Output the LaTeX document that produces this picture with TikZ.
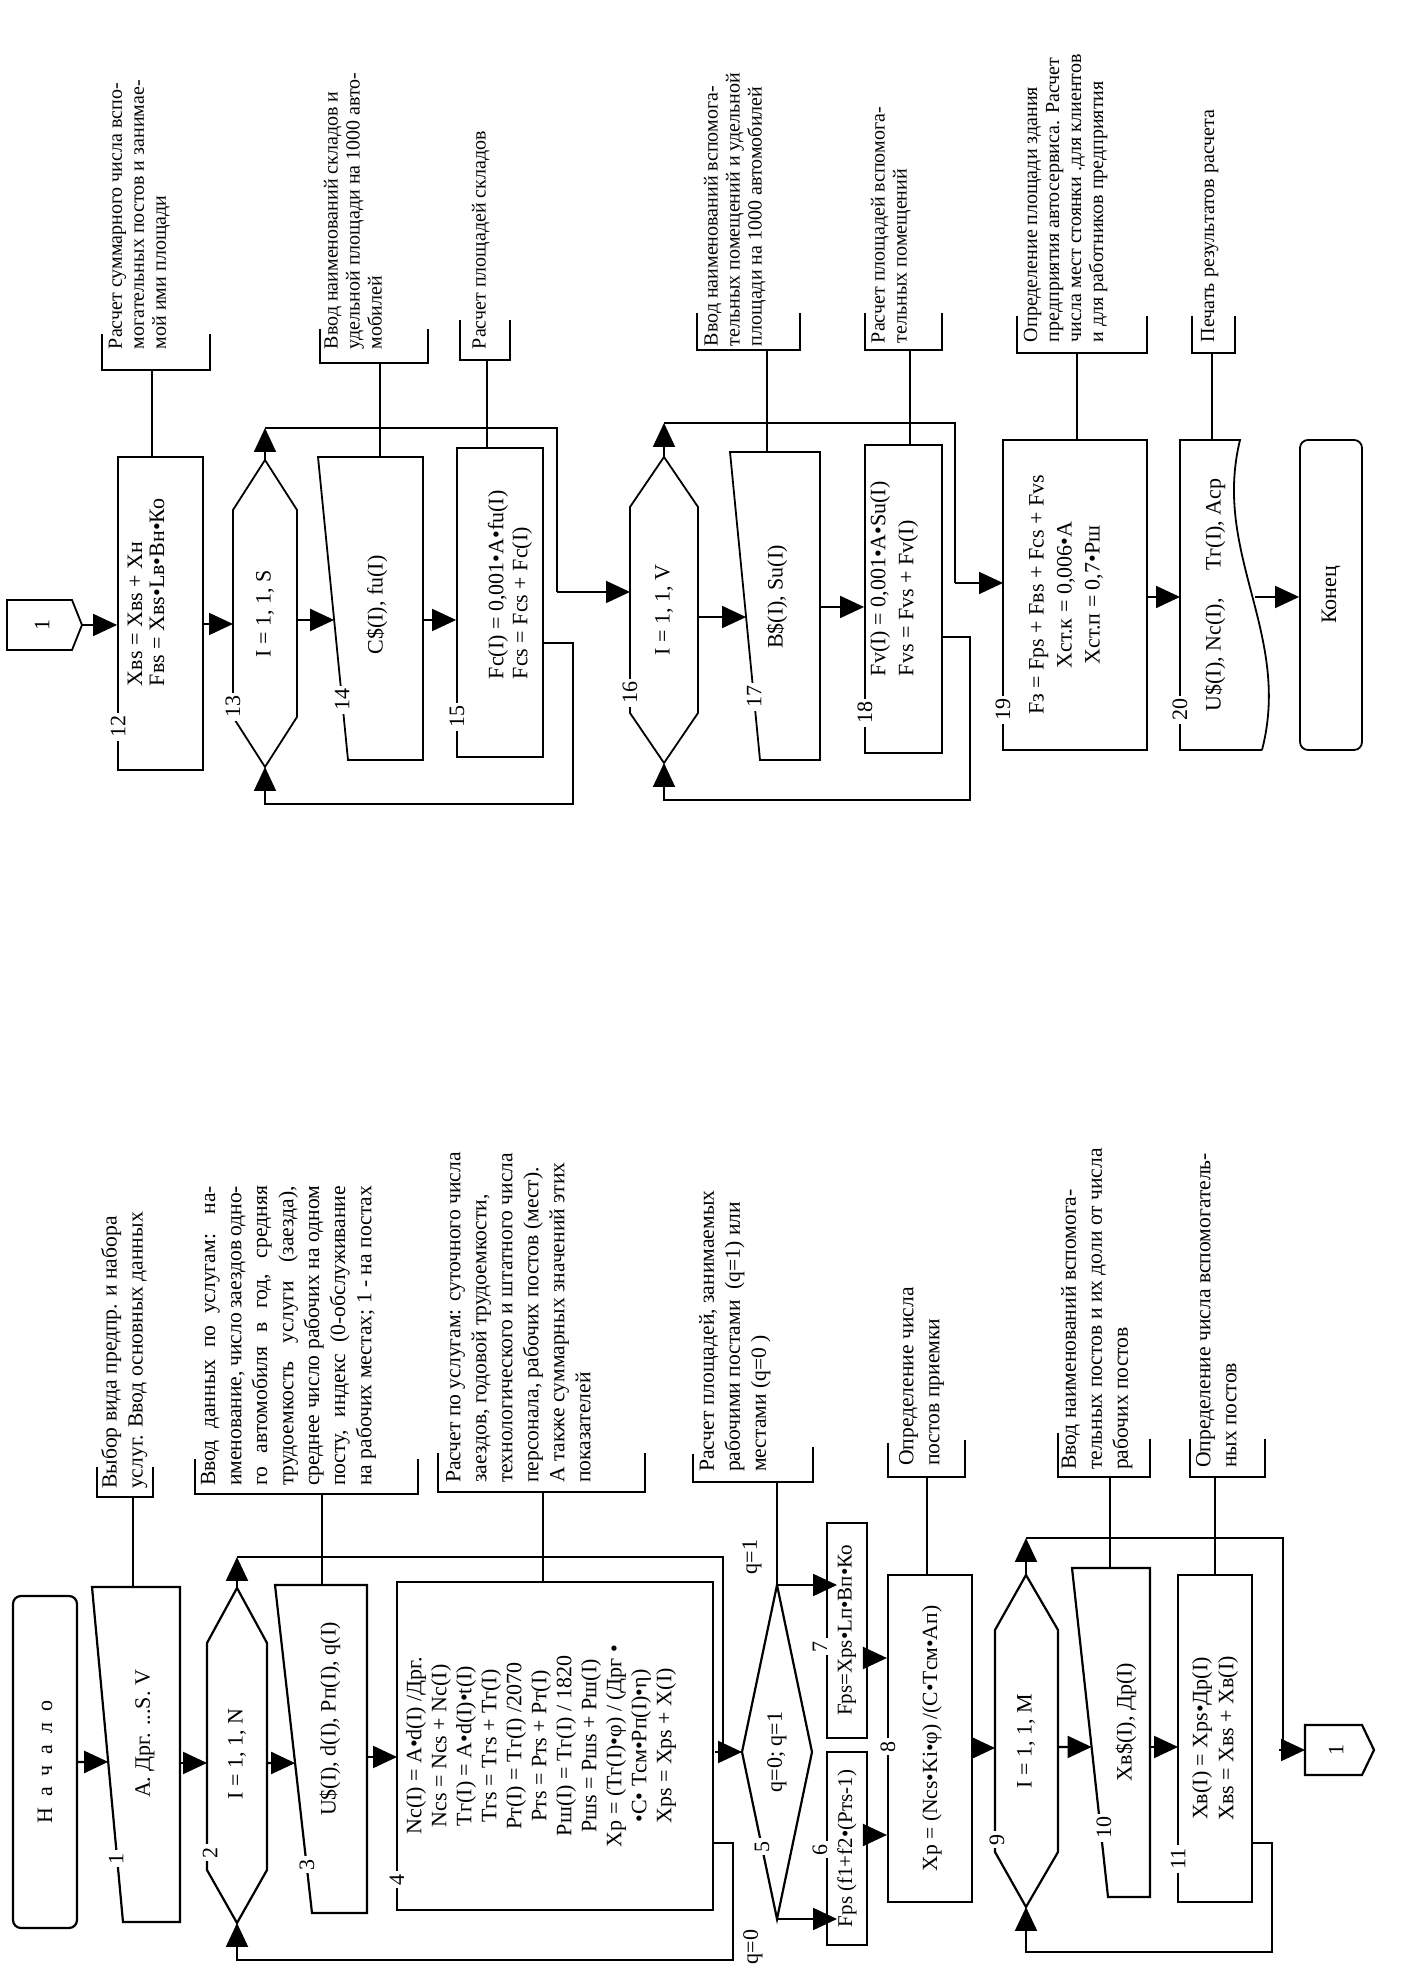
\documentclass[tikz,border=0pt]{standalone}
\usepackage{fontspec}
\setmainfont{Liberation Serif}
\usetikzlibrary{arrows.meta,calc}
\begin{document}
\begin{tikzpicture}[x={(0pt,0.5pt)},y={(0.5pt,0pt)},line width=1.1pt,
  arr/.style={-{Triangle[length=12pt,width=11pt]}},
  every node/.style={rotate=90,inner sep=0pt},
  fa/.style={font=\fontsize{11}{12.5}\selectfont},
  fc/.style={font=\fontsize{10.8}{13}\selectfont},
  fd/.style={font=\fontsize{10}{11}\selectfont},
  lbl/.style={fill=white,inner sep=1.5pt,font=\fontsize{11}{12}\selectfont},
  cmt/.style={anchor=north west,align=left},
  bx/.style={draw}]
\useasboundingbox (0,0) rectangle (1984,1414);
\fill[white] (0,0) rectangle (1984,1414);

% ================= LEFT COLUMN =================
\node[bx,rounded corners=4pt,minimum width=166pt,minimum height=32pt,fa] (start) at (222,45) {Н~~а~~ч~~а~~л~~о};

% block 1
\coordinate (b1a) at (62,123); \coordinate (b1b) at (397,92);
\coordinate (b1c) at (397,180); \coordinate (b1d) at (62,180);
\draw (b1a)--(b1b)--(b1c)--(b1d)--cycle;
\node[fa] (b1) at (250,145) {A. Дрг. ...S. V};
\coordinate (b1in) at ($(b1a)!0.478!(b1b)$);
\draw[arr] (start.south) -- (b1in);

% block 2 (loop)
\coordinate (b2l) at (61,237); \coordinate (b2tl) at (114,207); \coordinate (b2tr) at (341,207);
\coordinate (b2r) at (396,237); \coordinate (b2br) at (341,267); \coordinate (b2bl) at (114,267);
\draw (b2l)--(b2tl)--(b2tr)--(b2r)--(b2br)--(b2bl)--cycle;
\node[fa] (b2) at (230,237) {I = 1, 1, N};
\coordinate (b1out) at (221,180); \coordinate (b2in) at (221,207);
\draw[arr] (b1out) -- (b2in);

% block 3
\coordinate (b3a) at (71,312); \coordinate (b3b) at (399,275);
\coordinate (b3c) at (399,367); \coordinate (b3d) at (71,367);
\draw (b3a)--(b3b)--(b3c)--(b3d)--cycle;
\node[fa] (b3) at (265,330) {U\$(I), d(I), Pп(I), q(I)};
\coordinate (b2out) at (221,267); \coordinate (b3in) at ($(b3a)!0.457!(b3b)$);
\draw[arr] (b2out) -- (b3in);

% block 4
\node[bx,minimum width=164pt,minimum height=158pt] (b4) at (238,555) {};
\node[align=center,font=\fontsize{11}{12.5}\selectfont] (b4t) at (238,541) {Nc(I) = A•d(I) /Дрг.\\Ncs = Ncs + Nc(I)\\Tг(I) = A•d(I)•t(I)\\Tгs = Tгs + Tг(I)\\Pт(I) = Tг(I) /2070\\Pтs = Pтs + Pт(I)\\Pш(I) = Tг(I) / 1820\\Pшs = Pшs + Pш(I)\\Xp = (Tг(I)•φ) / (Дрг •\\•C• Tсм•Pп(I)•η)\\Xps = Xps + X(I)};
\coordinate (b3out) at (227,367); \coordinate (b4in) at (227,397);
\draw[arr] (b3out) -- (b4in);

% loop 2 return
\coordinate (b4ret) at (141,713);
\draw[arr] (b4ret) -- (141,733) -- (24,733) -- (24,237) -- (b2l);

% diamond 5
\coordinate (d5t) at (232,742); \coordinate (d5r) at (399,777);
\coordinate (d5b) at (232,812); \coordinate (d5l) at (65,777);
\draw (d5t)--(d5r)--(d5b)--(d5l)--cycle;
\node[fa] (d5) at (232,777) {q=0; q=1};
\coordinate (x2a) at (427,237); \coordinate (x2b) at (232,715);
\draw[arr] (b2r) -- (x2a);
\draw (x2a) -- (427,723) -- (232,723);
\draw[arr] (x2b) -- (d5t);
\node[fa] (q0) at (37,753) {q=0};
\node[fa] (q1) at (427,752) {q=1};

% blocks 6 and 7
\node[bx,minimum width=96.5pt,minimum height=20pt] (b6) at (135.5,847) {};
\node[font=\fontsize{10.5}{12}\selectfont] (b6t) at (135.5,847) {Fps (f1+f2•(Pтs-1)};
\node[bx,minimum width=107.5pt,minimum height=20pt] (b7) at (353.5,847) {};
\node[font=\fontsize{10.5}{12}\selectfont] (b7t) at (353.5,847) {Fps=Xps•Lп•Вп•Ко};
\draw[arr] (d5l) -- (65,837);
\draw[arr] (d5r) -- (399,837);

% block 8
\node[bx,minimum width=163.5pt,minimum height=42pt] (b8) at (245.5,930) {};
\node[font=\fontsize{10.8}{12}\selectfont] (b8t) at (245.5,932) {Xp = (Ncs•Ki•φ) /(C•Tсм•Ап)};
\coordinate (b6o) at (149,864); \coordinate (b7o) at (326,864);
\draw[arr] (b6o) -- (b6o -| b8.north);
\draw[arr] (b7o) -- (b7o -| b8.north);

% block 9 (loop)
\coordinate (b9l) at (77,1026); \coordinate (b9tl) at (132,995); \coordinate (b9tr) at (354,995);
\coordinate (b9r) at (409,1026); \coordinate (b9br) at (354,1058); \coordinate (b9bl) at (132,1058);
\draw (b9l)--(b9tl)--(b9tr)--(b9r)--(b9br)--(b9bl)--cycle;
\node[fa] (b9) at (243,1026) {I = 1, 1, M};
\coordinate (b8o) at (236,972); \coordinate (b9in) at (236,995);
\draw[arr] (b8o) -- (b9in);

% block 10
\coordinate (b10a) at (87,1108); \coordinate (b10b) at (416,1072);
\coordinate (b10c) at (416,1150); \coordinate (b10d) at (87,1150);
\draw (b10a)--(b10b)--(b10c)--(b10d)--cycle;
\node[fa] (b10) at (262,1126) {Xв\$(I), Дp(I)};
\coordinate (b9o) at (237,1058); \coordinate (b10in) at ($(b10a)!0.456!(b10b)$);
\draw[arr] (b9o) -- (b10in);

% block 11
\node[bx,minimum width=163.5pt,minimum height=37pt] (b11) at (245.5,1215) {};
\node[align=center,font=\fontsize{11}{13}\selectfont] (b11t) at (245.5,1215) {Xв(I) = Xps•Дp(I)\\Xвs = Xвs + Xв(I)};
\coordinate (b10o) at (237,1150); \coordinate (b11in) at (237,1178);
\draw[arr] (b10o) -- (b11in);

% loop 9 return and exit
\coordinate (b11ret) at (141,1252);
\draw[arr] (b11ret) -- (141,1272) -- (32,1272) -- (32,1026) -- (b9l);
\coordinate (x9a) at (446,1026);
\draw[arr] (b9r) -- (x9a);
\coordinate (cb1t) at (234,1305);
\draw (x9a) -- (446,1283) -- (234,1283);
\draw[arr] (234,1279) -- (cb1t);
\draw (209,1305) -- (259,1305) -- (259,1362) -- (234,1374) -- (209,1362) -- cycle;
\node[fa] (cb1) at (234,1336) {1};

% labels
\node[lbl] at (125,116) {1};
\node[lbl] at (131,210) {2};
\node[lbl] at (119,307) {3};
\node[lbl] at (104,397) {4};
\node[lbl] at (137,762) {5};
\node[lbl] at (134,820) {6};
\node[lbl] at (337,820) {7};
\node[lbl] at (237,888) {8};
\node[lbl] at (144,997) {9};
\node[lbl] at (156,1104) {10};
\node[lbl] at (125,1178) {11};

% ---- comments (bottom half)
\draw (397,133) -- (487,133);
\draw (517,97) -- (487,97) -- (487,153) -- (517,153);
\node[fc,cmt] (t1) at (494,100) {Выбор вида предпр. и набора\\услуг. Ввод основных данных};
\draw (399,322) -- (490,322);
\draw (525,195) -- (490,195) -- (490,418) -- (525,418);
\node[fc,cmt] (t3) at (497,200) {\makebox[150pt][s]{Ввод данных по услугам: на-}\\\makebox[150pt][s]{именование, число заездов одно-}\\\makebox[150pt][s]{го автомобиля в год, средняя}\\\makebox[150pt][s]{трудоемкость услуги (заезда),}\\\makebox[150pt][s]{среднее число рабочих на одном}\\\makebox[150pt][s]{посту, индекс (0-обслуживание}\\\makebox[150pt][s]{на рабочих местах; 1 - на постах}};
\draw (402,543) -- (492,543);
\draw (531,438) -- (492,438) -- (492,645) -- (531,645);
\node[fc,cmt] (t4) at (500,445) {Расчет по услугам: суточного числа\\заездов, годовой трудоемкости,\\технологического и штатного числа\\персонала, рабочих постов (мест).\\А также суммарных значений этих\\показателей};
\draw (d5r) -- (502,777);
\draw (530,693) -- (502,693) -- (502,813) -- (537,813);
\node[fc,cmt] (t5) at (511,698) {Расчет площадей, занимаемых\\рабочими постами \ (q=1) или\\местами (q=0 )};
\draw (409,927) -- (507,927);
\draw (541,888) -- (507,888) -- (507,965) -- (544,965);
\node[fc,cmt] (t8) at (517,898) {Определение числа\\постов приемки};
\draw (416,1110) -- (507,1110);
\draw (551,1058) -- (507,1058) -- (507,1150) -- (545,1150);
\node[fc,cmt] (t10) at (513,1060) {Ввод наименований вспомога-\\тельных постов и их доли от числа\\рабочих постов};
\draw (409,1215) -- (507,1215);
\draw (545,1190) -- (507,1190) -- (507,1265) -- (545,1265);
\node[fc,cmt] (t11) at (515,1195) {Определение числа вспомогатель-\\ных постов};

% ================= RIGHT COLUMN =================
\begin{scope}[line width=0.9pt]
\draw (1334,7) -- (1384,7) -- (1384,72) -- (1359,82) -- (1334,72) -- cycle;
\node[fa] (c1) at (1359,42) {1};
\coordinate (c1o) at (1359,82);

% block 12
\node[bx,minimum width=156.5pt,minimum height=42.5pt] (b12) at (1370.5,160.5) {};
\node[anchor=west,align=left,font=\fontsize{11}{11}\selectfont] (b12t) at (1297,146) {Xвs = Xвs + Xн\\Fвs = Xвs•Lв•Вн•Ко};
\draw[arr] (c1o) -- (c1o -| b12.north);

% block 13 (loop)
\coordinate (b13l) at (1217,265); \coordinate (b13tl) at (1267,233); \coordinate (b13tr) at (1474,233);
\coordinate (b13r) at (1524,265); \coordinate (b13br) at (1474,297); \coordinate (b13bl) at (1267,297);
\draw (b13l)--(b13tl)--(b13tr)--(b13r)--(b13br)--(b13bl)--cycle;
\node[fa] (b13) at (1370,265) {I = 1, 1, S};
\coordinate (b12o) at (1360,203); \coordinate (b13in) at (1360,233);
\draw[arr] (b12o) -- (b13in);

% block 14
\coordinate (b14a) at (1224,348); \coordinate (b14b) at (1527,318);
\coordinate (b14c) at (1527,423); \coordinate (b14d) at (1224,423);
\draw (b14a)--(b14b)--(b14c)--(b14d)--cycle;
\node[fa] (b14) at (1379,377) {C\$(I), fu(I)};
\coordinate (b13o) at (1364,297); \coordinate (b14in) at ($(b14a)!0.462!(b14b)$);
\draw[arr] (b13o) -- (b14in);

% block 15
\node[bx,minimum width=154.5pt,minimum height=43pt] (b15) at (1381.5,500) {};
\node[anchor=west,align=left,font=\fontsize{11}{12}\selectfont] (b15t) at (1304,510) {Fc(I) = 0,001•A•fu(I)\\Fcs = Fcs + Fc(I)};
\coordinate (b14o) at (1364,423);
\draw[arr] (b14o) -- (b14o -| b15.north);

% loop 13 return / exit
\coordinate (b15ret) at (1341,543);
\draw[arr] (b15ret) -- (1341,573) -- (1180,573) -- (1180,265) -- (b13l);
\coordinate (x13a) at (1556,265);
\draw[arr] (b13r) -- (x13a);
\draw (x13a) -- (1556,557) -- (1392,557);

% block 16 (loop)
\coordinate (b16l) at (1221,664); \coordinate (b16tl) at (1271,630); \coordinate (b16tr) at (1477,630);
\coordinate (b16r) at (1527,664); \coordinate (b16br) at (1477,698); \coordinate (b16bl) at (1271,698);
\draw (b16l)--(b16tl)--(b16tr)--(b16r)--(b16br)--(b16bl)--cycle;
\node[fa] (b16) at (1374,664) {I = 1, 1, V};
\coordinate (b16in) at (1392,630);
\draw[arr] (1392,557) -- (b16in);

% block 17
\coordinate (b17a) at (1224,760); \coordinate (b17b) at (1532,730);
\coordinate (b17c) at (1532,820); \coordinate (b17d) at (1224,820);
\draw (b17a)--(b17b)--(b17c)--(b17d)--cycle;
\node[fa] (b17) at (1387,777) {B\$(I), Su(I)};
\coordinate (b16o) at (1367,698); \coordinate (b17in) at ($(b17a)!0.464!(b17b)$);
\draw[arr] (b16o) -- (b17in);

% block 18
\node[bx,minimum width=154pt,minimum height=38.5pt] (b18) at (1385,903.5) {};
\node[anchor=west,align=left,font=\fontsize{11}{14}\selectfont] (b18t) at (1307,894) {Fv(I) = 0,001•A•Su(I)\\Fvs = Fvs + Fv(I)};
\coordinate (b17o) at (1377,820);
\draw[arr] (b17o) -- (b17o -| b18.north);

% loop 16 return / exit
\coordinate (b18ret) at (1347,942);
\draw[arr] (b18ret) -- (1347,970) -- (1184,970) -- (1184,664) -- (b16l);
\coordinate (x16a) at (1561,664);
\draw[arr] (b16r) -- (x16a);
\draw (x16a) -- (1561,955) -- (1401,955);

% block 19
\node[bx,minimum width=155pt,minimum height=72pt] (b19) at (1389,1075) {};
\node[align=center,font=\fontsize{11}{14}\selectfont] (b19t) at (1389,1066) {Fз = Fps + Fвs + Fcs + Fvs\\Xст.к = 0,006•A\\Xст.п = 0,7•Pш};
\coordinate (b19in) at (1401,1003);
\draw[arr] (1401,955) -- (b19in);

% block 20 (document)
\coordinate (b20a) at (1234,1180); \coordinate (b20b) at (1544,1180);
\draw (1234,1262) -- (b20a) -- (b20b) -- (1544,1240) .. controls (1430,1212) and (1350,1292) .. (1234,1262);
\node[fa] (b20) at (1389,1215) {U\$(I), Nc(I), \quad Tг(I), Aср};
\coordinate (b19o) at (1387,1147); \coordinate (b20in) at (1387,1180);
\draw[arr] (b19o) -- (b20in);

% end
\node[bx,rounded corners=4pt,minimum width=155pt,minimum height=31pt,fa] (end) at (1389,1331) {Конец};
\coordinate (b20o) at (1387,1255);
\draw[arr] (b20o) -- (b20o -| end.north);

% labels
\node[lbl] at (1257,118) {12};
\node[lbl] at (1277,233) {13};
\node[lbl] at (1284,342) {14};
\node[lbl] at (1267,457) {15};
\node[lbl] at (1291,630) {16};
\node[lbl] at (1287,754) {17};
\node[lbl] at (1271,865) {18};
\node[lbl] at (1274,1003) {19};
\node[lbl] at (1274,1180) {20};

% ---- comments (top half)
\draw (1527,152) -- (1614,152);
\draw (1650,102) -- (1614,102) -- (1614,210) -- (1650,210);
\node[fd,cmt] (t12) at (1634,108) {Расчет суммарного числа вспо-\\могательных постов и занимае-\\мой ими площади};
\draw (1527,380) -- (1621,380);
\draw (1655,320) -- (1621,320) -- (1621,428) -- (1655,428);
\node[fd,cmt] (t14) at (1634,323) {Ввод наименований складов и\\удельной площади на 1000 авто-\\мобилей};
\draw (1536,487) -- (1624,487);
\draw (1664,460) -- (1624,460) -- (1624,510) -- (1664,510);
\node[fd,cmt] (t15) at (1634,471) {Расчет площадей складов};
\draw (1532,767) -- (1634,767);
\draw (1671,697) -- (1634,697) -- (1634,800) -- (1671,800);
\node[fd,cmt] (t17) at (1637,703) {Ввод наименований вспомога-\\тельных помещений и удельной\\площади на 1000 автомобилей};
\draw (1539,910) -- (1634,910);
\draw (1671,865) -- (1634,865) -- (1634,942) -- (1671,942);
\node[fd,cmt] (t18) at (1640,870) {Расчет площадей вспомога-\\тельных помещений};
\draw (1544,1077) -- (1631,1077);
\draw (1668,1017) -- (1631,1017) -- (1631,1147) -- (1668,1147);
\node[fd,cmt] (t19) at (1641,1023) {Определение площади здания\\предприятия автосервиса. Расчет\\числа мест стоянки .для клиентов\\и для работников предприятия};
\draw (1544,1212) -- (1631,1212);
\draw (1668,1192) -- (1631,1192) -- (1631,1235) -- (1668,1235);
\node[fd,cmt] (t20) at (1641,1200) {Печать результатов расчета};
\end{scope}
\end{tikzpicture}
\end{document}
